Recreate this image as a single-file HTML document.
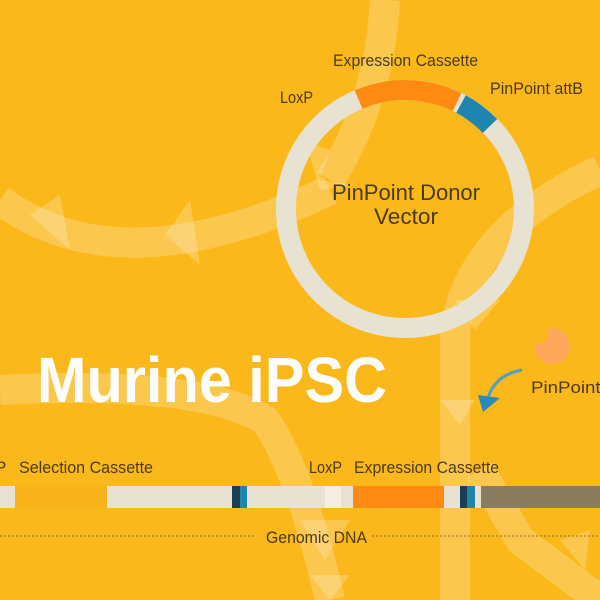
<!DOCTYPE html>
<html><head><meta charset="utf-8"><style>
html,body{margin:0;padding:0}
body{width:600px;height:600px;overflow:hidden;background:#FBB81B}
svg{display:block}
text{font-family:"Liberation Sans",sans-serif;fill:#4a3a1a}
</style></head><body>
<svg width="600" height="600" viewBox="0 0 600 600">
<defs><mask id="m"><rect width="600" height="600" fill="#fff"/><circle cx="537" cy="333" r="11" fill="#000"/></mask></defs>
<rect width="600" height="600" fill="#FBB81B"/>
<g fill="none" stroke="#fff" stroke-opacity="0.22" stroke-width="30">
<path d="M0 200 Q120 290 330 190"/>
<path d="M385 0 Q380 100 330 180"/>
<path d="M600 170 Q470 230 455 330 L455 600"/>
<path d="M0 390 Q200 380 265 420 Q300 470 330 600"/>
<path d="M480 470 L520 540 L600 600"/>
</g>
<g fill="#fff" fill-opacity="0.22">
<polygon points="30,215 60,195 70,250"/>
<polygon points="165,235 190,200 200,265"/>
<polygon points="305,140 330,150 320,180 355,185 320,190"/>
<polygon points="455,300 500,300 475,330"/>
<polygon points="440,400 475,400 460,425"/>
<polygon points="300,520 350,520 325,560"/>
<polygon points="310,575 350,575 330,600"/>
<polygon points="560,540 590,530 585,570"/>
</g>
<circle cx="405" cy="209" r="119" fill="none" stroke="#E8E2D2" stroke-width="20"/>
<path d="M358.5 99.5 A119 119 0 0 1 457 102" fill="none" stroke="#FF8A12" stroke-width="20"/>
<path d="M461 104 A119 119 0 0 1 490 126" fill="none" stroke="#1F84B0" stroke-width="20"/>
<text x="333" y="66" font-size="17" textLength="145" lengthAdjust="spacingAndGlyphs">Expression Cassette</text>
<text x="490" y="94" font-size="17" textLength="93" lengthAdjust="spacingAndGlyphs">PinPoint attB</text>
<text x="280" y="103" font-size="17" textLength="33" lengthAdjust="spacingAndGlyphs">LoxP</text>
<text x="332" y="200" font-size="22" textLength="148" lengthAdjust="spacingAndGlyphs" fill="#3a2e15">PinPoint Donor</text>
<text x="374" y="224" font-size="22" textLength="64" lengthAdjust="spacingAndGlyphs" fill="#3a2e15">Vector</text>
<text x="37" y="402" font-size="64" font-weight="bold" style="fill:#fff" textLength="350" lengthAdjust="spacingAndGlyphs">Murine iPSC</text>
<circle cx="552" cy="346" r="18" fill="#FFA75A" mask="url(#m)"/>
<path d="M522 370 Q495 375 488 398" fill="none" stroke="#4aa0c8" stroke-width="3"/>
<polygon points="478,395 500,398 483,412" fill="#2a8ab8"/>
<text x="531" y="393" font-size="17" textLength="80" lengthAdjust="spacingAndGlyphs">PinPoint I</text>
<text x="-5" y="473" font-size="17">P</text>
<text x="19" y="473" font-size="17" textLength="134" lengthAdjust="spacingAndGlyphs">Selection Cassette</text>
<text x="309" y="473" font-size="17" textLength="33" lengthAdjust="spacingAndGlyphs">LoxP</text>
<text x="354" y="473" font-size="17" textLength="145" lengthAdjust="spacingAndGlyphs">Expression Cassette</text>
<rect x="0" y="486" width="600" height="22" fill="#E8E2D2"/>
<rect x="15" y="486" width="92" height="22" fill="#F8B41A"/>
<rect x="232" y="486" width="8" height="22" fill="#1B3F52"/>
<rect x="240" y="486" width="7" height="22" fill="#1F84B0"/>
<rect x="325" y="486" width="16" height="22" fill="#F2EEE2"/>
<rect x="353" y="486" width="91" height="22" fill="#FF8A12"/>
<rect x="460" y="486" width="7" height="22" fill="#1B3F52"/>
<rect x="467" y="486" width="8" height="22" fill="#1F84B0"/>
<rect x="481" y="486" width="119" height="22" fill="#8A7C5E"/>
<line x1="0" y1="536" x2="256" y2="536" stroke="#8a6a20" stroke-dasharray="2,2"/>
<line x1="372" y1="536" x2="600" y2="536" stroke="#8a6a20" stroke-dasharray="2,2"/>
<text x="266" y="543" font-size="17" textLength="101" lengthAdjust="spacingAndGlyphs">Genomic DNA</text>
</svg>
</body></html>
